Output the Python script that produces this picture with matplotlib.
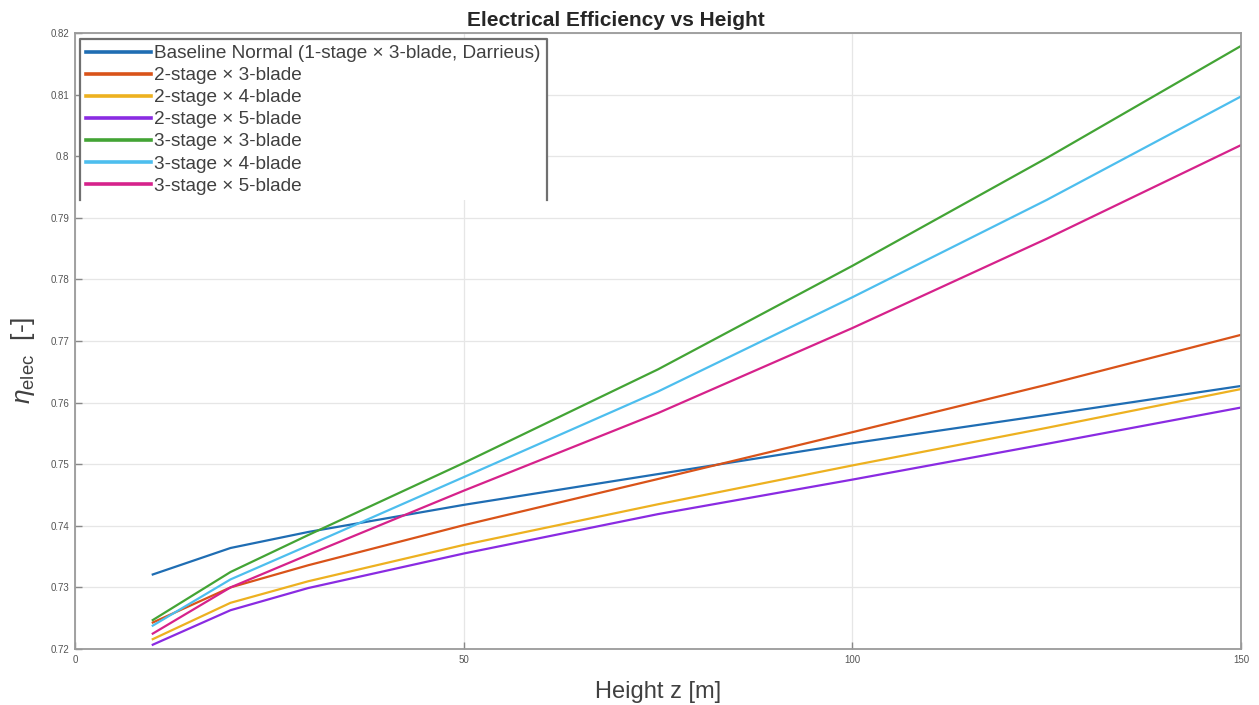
import matplotlib.pyplot as plt
from matplotlib.lines import Line2D

plt.rcParams['font.family'] = ['Liberation Sans', 'DejaVu Sans']
plt.rcParams['mathtext.fontset'] = 'custom'
plt.rcParams['mathtext.rm'] = 'Liberation Sans'
plt.rcParams['mathtext.it'] = 'Liberation Sans:italic'

# Hub heights [m] and electrical efficiency per rotor configuration
height = [10, 20, 30, 50, 75, 100, 125, 150]

baseline = [0.7321, 0.7364, 0.7390, 0.7434, 0.7484, 0.7534, 0.7580, 0.7627]
s2_b3 = [0.7243, 0.7300, 0.7336, 0.7401, 0.7476, 0.7552, 0.7629, 0.7710]
s2_b4 = [0.7216, 0.7275, 0.7310, 0.7369, 0.7435, 0.7498, 0.7559, 0.7622]
s2_b5 = [0.7207, 0.7263, 0.7299, 0.7355, 0.7419, 0.7475, 0.7533, 0.7592]
s3_b3 = [0.7247, 0.7325, 0.7385, 0.7502, 0.7654, 0.7822, 0.7997, 0.8179]
s3_b4 = [0.7238, 0.7313, 0.7368, 0.7479, 0.7618, 0.7771, 0.7929, 0.8097]
s3_b5 = [0.7225, 0.7300, 0.7353, 0.7457, 0.7583, 0.7721, 0.7866, 0.8018]

labels = ['Baseline Normal (1-stage \u00d7 3-blade, Darrieus)',
          '2-stage \u00d7 3-blade', '2-stage \u00d7 4-blade', '2-stage \u00d7 5-blade',
          '3-stage \u00d7 3-blade', '3-stage \u00d7 4-blade', '3-stage \u00d7 5-blade']
series = [baseline, s2_b3, s2_b4, s2_b5, s3_b3, s3_b4, s3_b5]
colors = ['#1f6db3', '#d95319', '#edb120', '#8a2be2', '#43a435', '#4dbeee', '#d6228b']

fig = plt.figure(figsize=(12.59, 7.05), dpi=100)
ax = fig.add_axes([0.0596, 0.0794, 0.9261, 0.8738])

for vals, lab, c in zip(series, labels, colors):
    ax.plot(height, vals, color=c, lw=1.6, label=lab)

ax.set_xlim(0, 150)
ax.set_ylim(0.72, 0.82)
ax.set_xticks([0, 50, 100, 150])
ax.set_yticks([0.72, 0.73, 0.74, 0.75, 0.76, 0.77, 0.78, 0.79, 0.8, 0.81, 0.82])
ax.set_yticklabels(['0.72', '0.73', '0.74', '0.75', '0.76', '0.77', '0.78',
                    '0.79', '0.8', '0.81', '0.82'])
ax.grid(True, color='#e6e6e6', lw=0.9)
ax.set_axisbelow(True)
ax.tick_params(direction='in', length=5, width=1, colors='#888888',
               labelcolor='#555555', labelsize=7, pad=4)
for sp in ax.spines.values():
    sp.set_color('#9a9a9a')
    sp.set_linewidth(1.3)

ax.set_title('Electrical Efficiency vs Height', fontsize=15, fontweight='bold',
             color='#262626', x=0.464, pad=5)
ax.set_xlabel('Height z [m]', fontsize=17, color='#404040', labelpad=12)
ax.set_ylabel(r'$\eta_{\mathrm{elec}}$  [-]', fontsize=19, color='#404040')
ax.yaxis.set_label_coords(-0.033, 0.469)

leg = ax.legend(loc='upper left', bbox_to_anchor=(0.0045, 0.99), fontsize=13.7,
                frameon=True, fancybox=False, framealpha=1, borderaxespad=0,
                handlelength=3.4, handletextpad=0.2, labelspacing=0.25,
                borderpad=0.3)
for h in leg.get_lines():
    h.set_linewidth(2.6)
for t in leg.get_texts():
    t.set_color('#404040')
leg.get_frame().set_edgecolor('none')

# open-bottom frame around the legend
fig.canvas.draw()
bb = leg.get_window_extent().transformed(fig.transFigure.inverted())
fig.add_artist(Line2D([bb.x0, bb.x0, bb.x1, bb.x1], [bb.y0, bb.y1, bb.y1, bb.y0],
                      transform=fig.transFigure, color='#707070', lw=1.6, zorder=10))

fig.savefig('out.png', dpi=100)
